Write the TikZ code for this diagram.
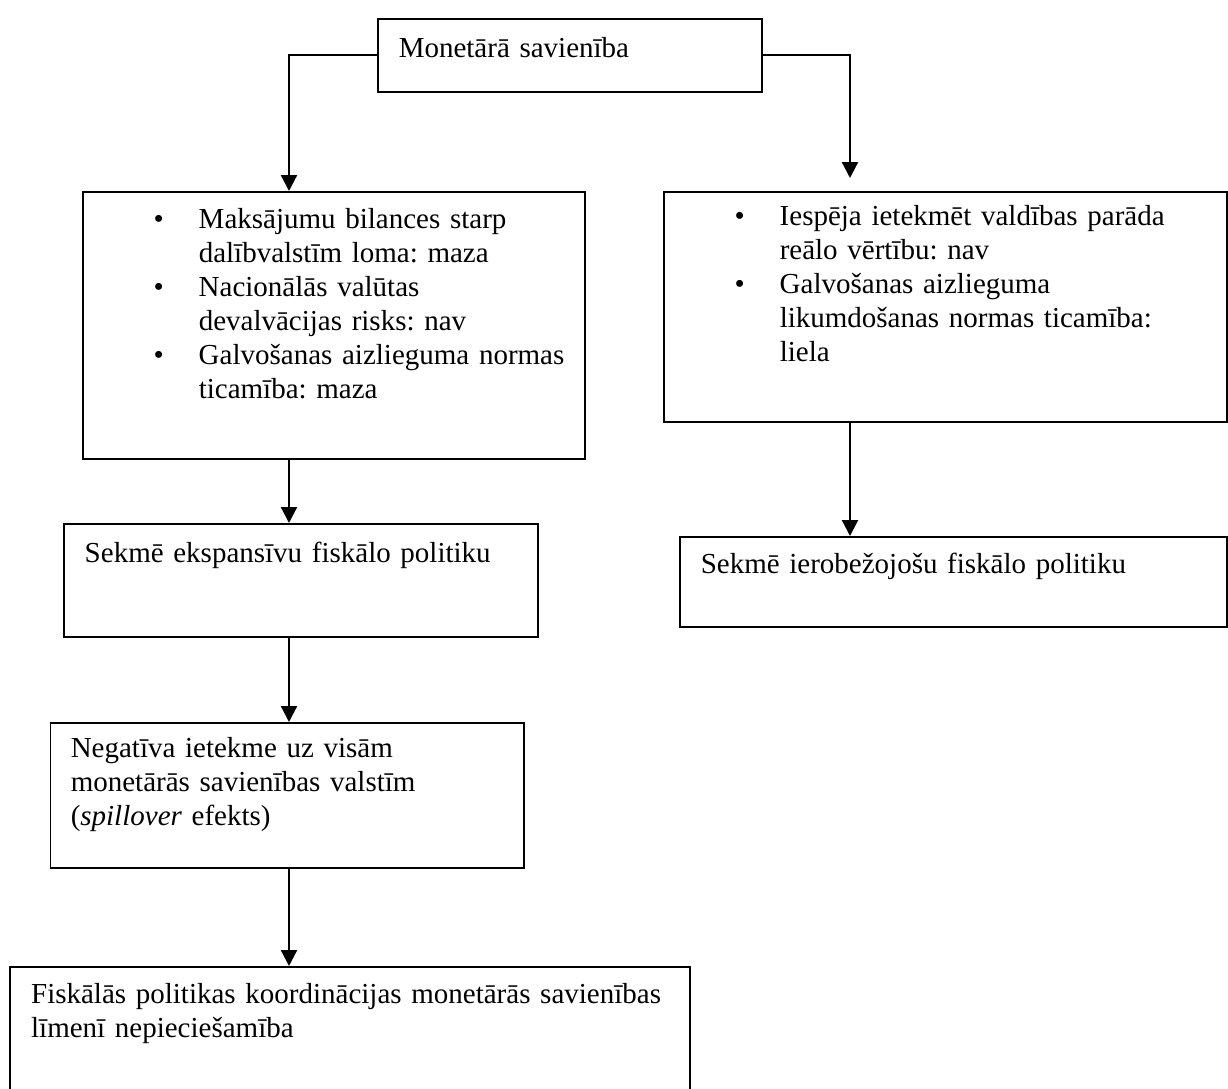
\documentclass[tikz,border=0pt]{standalone}
\usepackage{fontspec}
\setmainfont{Liberation Serif}
\usetikzlibrary{arrows.meta}

\newcommand{\itm}{\leavevmode\llap{\textbullet\hspace{14pt}}}

\begin{document}
\begin{tikzpicture}[x=0.4pt,y=-0.4pt,font=\fontsize{11.6pt}{13.6pt}\selectfont\frenchspacing,
    box/.style={draw,line width=0.6pt,anchor=north west,align=left,inner ysep=0pt,inner xsep=8.4pt},
    bul/.style={box,inner xsep=0pt},
    arr/.style={line width=0.9pt,-{Triangle[length=6.4pt,width=6.4pt]}}]
  \path[use as bounding box,fill=white] (0,0) rectangle (1228,1088);
  \coordinate (ls) at (289,0);
  \coordinate (rs) at (850,0);

  \node[box,text width=136.8pt,text height=15.6pt,text depth=13.6pt] (mon) at (377,18) {Monetārā savienība};

  \node[bul,text width=200.8pt,text height=14.8pt,text depth=92pt] (lb) at (82,191)
    {\leftskip=46.4pt
     \itm Maksājumu bilances starp\\ dalībvalstīm loma: maza\\
     \itm Nacionālās valūtas\\ devalvācijas risks: nav\\
     \itm Galvošanas aizlieguma normas\\ ticamība: maza\par};
  \node[bul,text width=225.2pt,text height=13.6pt,text depth=78.4pt] (rb) at (663,191)
    {\leftskip=46.4pt
     \itm Iespēja ietekmēt valdības parāda\\ reālo vērtību: nav\\
     \itm Galvošanas aizlieguma\\ likumdošanas normas ticamība:\\ liela\par};

  \node[box,text width=172.8pt,text height=15.6pt,text depth=29.6pt] (exp) at (63,523) {Sekmē ekspansīvu fiskālo politiku};
  \node[box,text width=202pt,text height=14.8pt,text depth=21.2pt] (res) at (679,536) {Sekmē ierobežojošu fiskālo politiku};
  \node[box,inner xsep=8.2pt,text width=173pt,text height=14pt,text depth=44pt] (neg) at (49.5,722)
    {Negatīva ietekme uz visām\\ monetārās savienības valstīm\\ (\textit{spillover} efekts)};
  \node[box,text width=255.2pt,text height=14.8pt,text depth=38.8pt] (coord) at (9.4,966)
    {\mbox{Fiskālās politikas koordinācijas monetārās savienības}\\ līmenī nepieciešamība};

  \draw[arr] (mon.west) -| (lb.north -| ls);
  \draw[arr,shorten >=5.2pt] (mon.east) -| (rb.north -| rs);
  \draw[arr] (lb.south -| ls) -- (exp.north -| ls);
  \draw[arr] (rb.south -| rs) -- (res.north -| rs);
  \draw[arr] (exp.south -| ls) -- (neg.north -| ls);
  \draw[arr] (neg.south -| ls) -- (coord.north -| ls);
\end{tikzpicture}
\end{document}
